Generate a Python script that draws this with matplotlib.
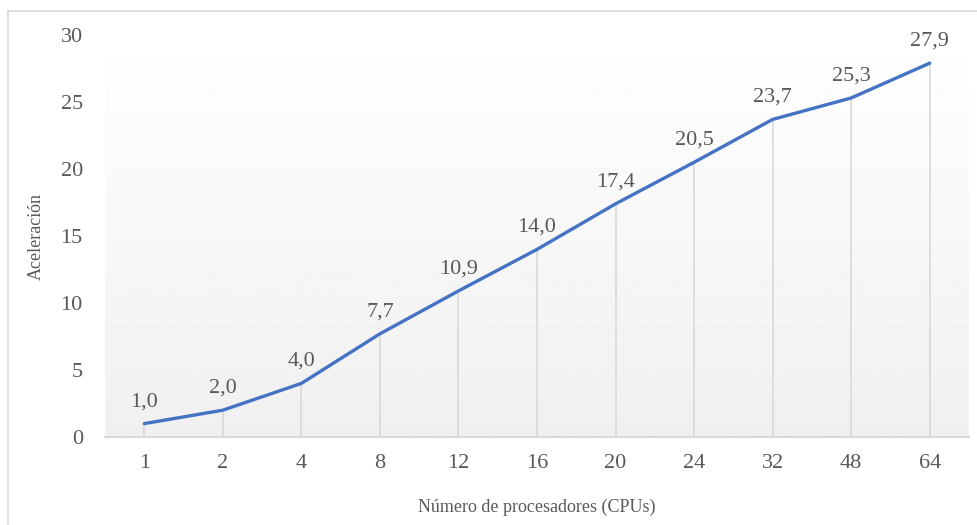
"""
Aceleración vs número de procesadores (CPUs).
Salida: out.png
"""

import numpy as np
import matplotlib.pyplot as plt
from matplotlib.patches import Rectangle

# =============
# Datos
# =============
procesadores = ["1", "2", "4", "8", "12", "16", "20", "24", "32", "48", "64"]
aceleracion = [1.0, 2.0, 4.0, 7.7, 10.9, 14.0, 17.4, 20.5, 23.7, 25.3, 27.9]
y_ticks = [0, 5, 10, 15, 20, 25, 30]

LINE_COLOR = "#4472C4"
TEXT_COLOR = "#595959"
GRID_COLOR = "#D9D9D9"

plt.rcParams["font.family"] = ["Liberation Serif", "DejaVu Serif"]

W, H = 977, 525
fig = plt.figure(figsize=(W / 100, H / 100), dpi=100)

# marco exterior del gráfico
fig.patches.append(Rectangle((8 / W, -0.05), 1.0, 1 - 11 / H + 0.05,
                             transform=fig.transFigure, fill=False,
                             edgecolor="#D9D9D9", linewidth=1.2))

ax = fig.add_axes([105 / W, 1 - 437 / H, (969 - 105) / W, (437 - 35) / H])

x = np.arange(len(procesadores))
ax.set_xlim(-0.5, len(procesadores) - 0.5)
ax.set_ylim(0, 30)

# fondo degradado (blanco arriba, gris claro abajo)
grad = np.linspace(1.0, 0.94, 256).reshape(-1, 1)
ax.imshow(grad, extent=[0, 1, 0, 1], transform=ax.transAxes, cmap="gray",
          vmin=0, vmax=1, aspect="auto", zorder=0)

# líneas de caída
ax.vlines(x, 0, aceleracion, colors=GRID_COLOR, linewidth=1.2, zorder=1)

ax.plot(x, aceleracion, color=LINE_COLOR, linewidth=2.4,
        solid_capstyle="round", zorder=3)

for xi, yi in zip(x, aceleracion):
    ax.annotate(f"{yi:.1f}".replace(".", ","), (xi, yi),
                xytext=(0, 9), textcoords="offset points",
                ha="center", va="bottom", fontsize=16, color=TEXT_COLOR)

for s in ["top", "right", "left"]:
    ax.spines[s].set_visible(False)
ax.spines["bottom"].set_color(GRID_COLOR)
ax.spines["bottom"].set_linewidth(1.5)
ax.spines["bottom"].set_zorder(2)

ax.set_xticks(x)
ax.set_xticklabels(procesadores)
ax.set_yticks(y_ticks)
ax.tick_params(axis="both", length=0, labelsize=16, colors=TEXT_COLOR)
ax.tick_params(axis="y", pad=16)
ax.tick_params(axis="x", pad=12)

ax.set_xlabel("Número de procesadores (CPUs)", fontsize=13, color=TEXT_COLOR,
              labelpad=19)
ax.set_ylabel("Aceleración", fontsize=13, color=TEXT_COLOR, labelpad=11)

fig.savefig("out.png", dpi=100)
